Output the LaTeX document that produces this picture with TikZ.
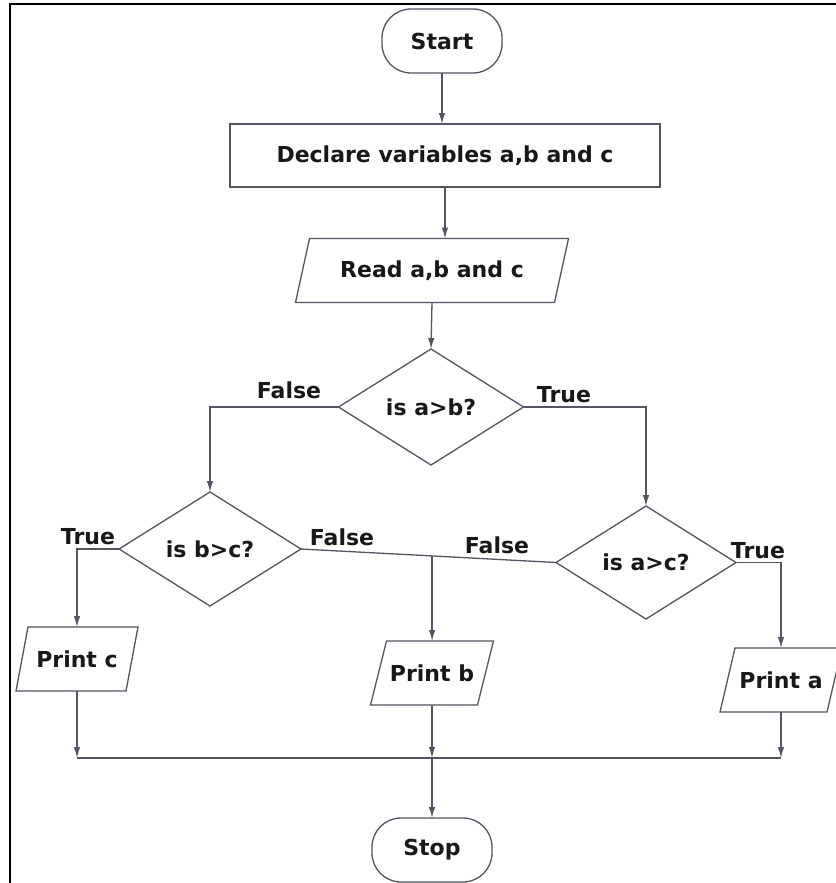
\documentclass[tikz,border=0pt]{standalone}
\usepackage{fontspec}
\setmainfont{DejaVu Sans}
\usetikzlibrary{shapes.geometric,calc,arrows.meta}
\definecolor{edge}{RGB}{82,86,98}
\definecolor{ink}{RGB}{24,24,24}
\tikzset{
  base/.style={font=\fontsize{22}{26}\selectfont\bfseries, text=ink, inner sep=0pt, outer sep=0pt},
  terminal/.style={base, draw=edge, line width=1.3pt, rounded corners=29pt,
                   minimum width=120pt, minimum height=64pt},
  process/.style={base, draw=edge, line width=1.3pt, minimum width=430pt, minimum height=63pt},
  iobox/.style={base, minimum width=#1, minimum height=64pt},
  decision/.style={base, diamond, draw=edge, line width=1.3pt, aspect=1.6},
  flow/.style={draw=edge, line width=1.3pt},
  arrow/.style={flow, -{Latex[length=11pt,width=6.5pt]}},
  lbl/.style={base},
  frame/.style={draw=black, line width=2.8pt},
}
\begin{document}
\begin{tikzpicture}[x=1pt,y=-1pt]
  \useasboundingbox (0,0) rectangle (835,883);
  \fill[white] (0,0) rectangle (835,883);
  \draw[frame] (10,884) -- (10,4) -- (836,4);

  % nodes
  \node[terminal] (start) at (442,41) {Start};
  \node[process] (declare) at (445,155.5) {Declare variables a,b and c};
  \node[iobox=259pt] (read) at (432,270.5) {Read a,b and c};
  \node[decision, minimum width=185pt, minimum height=116pt] (d1) at (431,407) {is a>b?};
  \node[decision, minimum width=182pt, minimum height=114pt] (d2) at (210,549) {is b>c?};
  \node[decision, minimum width=180pt, minimum height=113pt] (d3) at (646,562.5) {is a>c?};
  \node[iobox=110pt] (printc) at (77,659) {Print c};
  \node[iobox=107pt] (printb) at (432,673) {Print b};
  \node[iobox=107pt] (printa) at (781,680) {Print a};
  \node[terminal] (stop) at (432,850) {Stop};

  % parallelogram outlines of the input/output boxes
  \draw[flow] ([xshift=7pt]read.north west) -- ([xshift=7pt]read.north east)
    -- ([xshift=-7pt]read.south east) -- ([xshift=-7pt]read.south west) -- cycle;
  \draw[flow] ([xshift=6pt]printc.north west) -- ([xshift=6pt]printc.north east)
    -- ([xshift=-6pt]printc.south east) -- ([xshift=-6pt]printc.south west) -- cycle;
  \draw[flow] ([xshift=8pt]printb.north west) -- ([xshift=8pt]printb.north east)
    -- ([xshift=-8pt]printb.south east) -- ([xshift=-8pt]printb.south west) -- cycle;
  \draw[flow] ([xshift=7.5pt]printa.north west) -- ([xshift=7.5pt]printa.north east)
    -- ([xshift=-7.5pt]printa.south east) -- ([xshift=-7.5pt]printa.south west) -- cycle;

  % branch labels
  \node[lbl] (f1) at (289,390) {False};
  \node[lbl] (t1) at (564,395) {True};
  \node[lbl] (t2) at (88,537) {True};
  \node[lbl] (f2) at (342,537) {False};
  \node[lbl] (f3) at (497,545) {False};
  \node[lbl] (t3) at (758,551) {True};

  % helper points
  \coordinate (merge) at ($(d2.east)!0.514!(d3.west)$);
  \coordinate (busL) at (77,758);
  \coordinate (busC) at (432,758);
  \coordinate (busR) at (781,758);

  % connectors
  \draw[arrow] (start.south) -- (start.south |- declare.north);
  \draw[arrow] (declare.south) -- (declare.south |- read.north);
  \draw[arrow] (read.south) -- (d1.north);
  \draw[arrow] (d1.west) -| (d2.north);
  \draw[arrow] (d1.east) -| (d3.north);
  \draw[arrow] (d2.west) -| (printc.north);
  \draw[arrow] (d3.east) -| (printa.north);
  \draw[flow] (d2.east) -- (d3.west);
  \draw[arrow] (merge) -- (merge |- printb.north);
  \draw[arrow] (printc.south) -- (busL);
  \draw[arrow] (printb.south) -- (busC);
  \draw[arrow] (printa.south) -- (busR);
  \draw[flow] (busL) -- (busR);
  \draw[arrow] (busC) -- (stop.north);
\end{tikzpicture}
\end{document}
